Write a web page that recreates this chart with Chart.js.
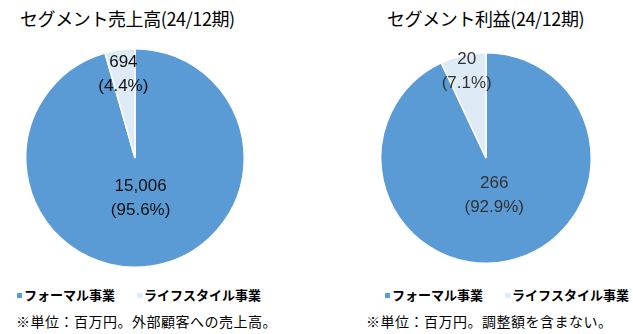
<!DOCTYPE html>
<html lang="ja">
<head>
<meta charset="utf-8">
<script src="https://cdn.jsdelivr.net/npm/chart.js@4.4.1/dist/chart.umd.min.js"></script>
<style>
  html, body { margin: 0; padding: 0; background: #fff; }
  body { width: 633px; height: 334px; position: relative; overflow: hidden;
         font-family: "Noto Sans CJK JP", "Noto Sans", sans-serif; color: #000; }
  .title { position: absolute; top: 5px; font-size: 18px; white-space: nowrap; letter-spacing: -0.4px; }
  .pie { position: absolute; }
  .legend { position: absolute; top: 285px; font-size: 13px; font-weight: bold; white-space: nowrap; }
  .legend span.item { margin-right: 22px; }
  .legend i { display: inline-block; width: 5px; height: 5px; margin-right: 2px; vertical-align: middle; position: relative; top: -1px; }
  .note { position: absolute; top: 311px; font-size: 14px; white-space: nowrap; letter-spacing: 0.5px; }
</style>
</head>
<body>
  <div class="title" style="left:20px">セグメント売上高(24/12期)</div>
  <div class="title" style="left:387px">セグメント利益(24/12期)</div>

  <canvas id="salesChart" class="pie" style="left:25px; top:48px" width="220" height="220"></canvas>
  <canvas id="profitChart" class="pie" style="left:380px; top:52px" width="212" height="212"></canvas>

  <div id="salesLegend" class="legend" style="left:17px"></div>
  <div id="profitLegend" class="legend" style="left:385px"></div>

  <div class="note" style="left:16px">※単位：百万円。外部顧客への売上高。</div>
  <div class="note" style="left:366px">※単位：百万円。調整額を含まない。</div>

<script>
// セグメント別データ（単位：百万円）
const segments = ['フォーマル事業', 'ライフスタイル事業'];
const salesValues = [15006, 694];
const salesShares = [95.6, 4.4];
const profitValues = [266, 20];
const profitShares = [92.9, 7.1];

const segmentColors = ['#5b9bd5', '#deebf7'];

// 扇形の中にラベル（金額と構成比）を描く
const sliceLabels = {
    id: 'sliceLabels',
    afterDatasetsDraw(chart, args, opts) {
        const ctx = chart.ctx;
        const meta = chart.getDatasetMeta(0);
        ctx.save();
        ctx.font = opts.font;
        ctx.fillStyle = opts.color;
        ctx.textAlign = 'center';
        ctx.textBaseline = 'middle';
        meta.data.forEach((arc, i) => {
            const p = arc.getProps(['x', 'y', 'startAngle', 'endAngle', 'outerRadius'], true);
            const mid = (p.startAngle + p.endAngle) / 2;
            const r = p.outerRadius * opts.radius[i];
            const x = p.x + Math.cos(mid) * r;
            const y = p.y + Math.sin(mid) * r;
            const value = chart.data.datasets[0].data[i].toLocaleString('en-US');
            const share = '(' + opts.shares[i].toFixed(1) + '%)';
            ctx.fillText(value, x, y - 12);
            ctx.fillText(share, x, y + 12);
        });
        ctx.restore();
    }
};

function makePie(id, values, shares, radius, color) {
    const ctx = document.getElementById(id).getContext('2d');
    return new Chart(ctx, {
        type: 'pie',
        data: {
            labels: segments,
            datasets: [{
                data: values,
                backgroundColor: segmentColors,
                borderColor: '#ffffff',
                borderWidth: 1.5
            }]
        },
        options: {
            responsive: false,
            animation: false,
            layout: { padding: 0 },
            plugins: {
                legend: { display: false },
                tooltip: { enabled: false },
                sliceLabels: {
                    shares: shares,
                    radius: radius,
                    color: color,
                    font: '17px "Liberation Sans", Arial, sans-serif'
                }
            }
        },
        plugins: [sliceLabels]
    });
}

function buildLegend(id) {
    const box = document.getElementById(id);
    segments.forEach((name, i) => {
        const item = document.createElement('span');
        item.className = 'item';
        item.innerHTML = '<i style="background:' + segmentColors[i] + '"></i>' + name;
        box.appendChild(item);
    });
}

makePie('salesChart', salesValues, salesShares, [0.37, 0.77], '#111111');
makePie('profitChart', profitValues, profitShares, [0.36, 0.84], '#333333');
buildLegend('salesLegend');
buildLegend('profitLegend');
</script>
</body>
</html>
